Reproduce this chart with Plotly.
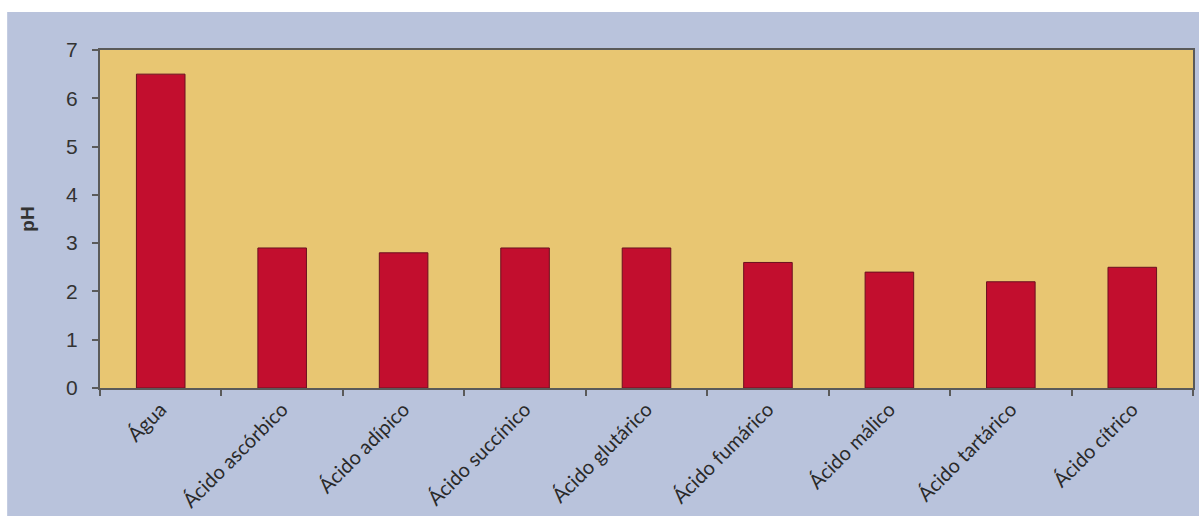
import plotly.graph_objects as go

categories = ["Água", "Ácido ascórbico", "Ácido adípico", "Ácido succínico",
              "Ácido glutárico", "Ácido fumárico", "Ácido málico",
              "Ácido tartárico", "Ácido cítrico"]
ph_values = [6.5, 2.9, 2.8, 2.9, 2.9, 2.6, 2.4, 2.2, 2.5]
y_ticks = [0, 1, 2, 3, 4, 5, 6, 7]

W, H = 1199, 519
ML, MR, MT, MB = 100, 4, 50, 131
pw = W - ML - MR
ph = H - MT - MB

def px_x(x):
    return (x - ML) / pw

def px_y(y):
    return (H - MB - y) / ph

fig = go.Figure()
fig.add_trace(go.Bar(
    x=categories, y=ph_values, width=0.4,
    marker=dict(color="#C20E2E", line=dict(color="#6B1020", width=1)),
))

axis_line = "#5a5a5a"
fig.update_layout(
    width=W, height=H,
    margin=dict(l=ML, r=MR, t=MT, b=MB),
    paper_bgcolor="#B9C3DC",
    plot_bgcolor="#E8C672",
    showlegend=False,
    font=dict(family="Lato", color="#2a2a2a"),
    xaxis=dict(
        tickson="boundaries", ticks="outside", ticklen=6, tickwidth=1.5,
        tickcolor=axis_line, showline=True, linecolor=axis_line, linewidth=2,
        mirror=True, tickangle=-45, tickfont=dict(size=20, family="Lato", color="#2a2a2a"),
        showgrid=False,
    ),
    yaxis=dict(
        range=[0, 7], tickvals=y_ticks, ticks="outside", ticklen=6, tickwidth=1.5,
        tickcolor=axis_line, showline=True, linecolor=axis_line, linewidth=2,
        mirror=True, showgrid=False, zeroline=False,
        tickfont=dict(size=21, family="Liberation Sans", color="#333333"),
        ticklabelstandoff=10,
        title=dict(text="<b>pH</b>", font=dict(size=19, family="Liberation Sans", color="#333333"), standoff=26),
    ),
    shapes=[
        dict(type="rect", xref="paper", yref="paper", x0=-0.2, x1=px_x(7), y0=-0.6, y1=1.6,
             fillcolor="white", line=dict(width=0), layer="above"),
        dict(type="rect", xref="paper", yref="paper", x0=-0.2, x1=1.2, y0=px_y(12), y1=1.6,
             fillcolor="white", line=dict(width=0), layer="above"),
        dict(type="rect", xref="paper", yref="paper", x0=-0.2, x1=1.2, y0=-0.6, y1=px_y(516),
             fillcolor="white", line=dict(width=0), layer="above"),
    ],
)

fig.write_html("out.html")
